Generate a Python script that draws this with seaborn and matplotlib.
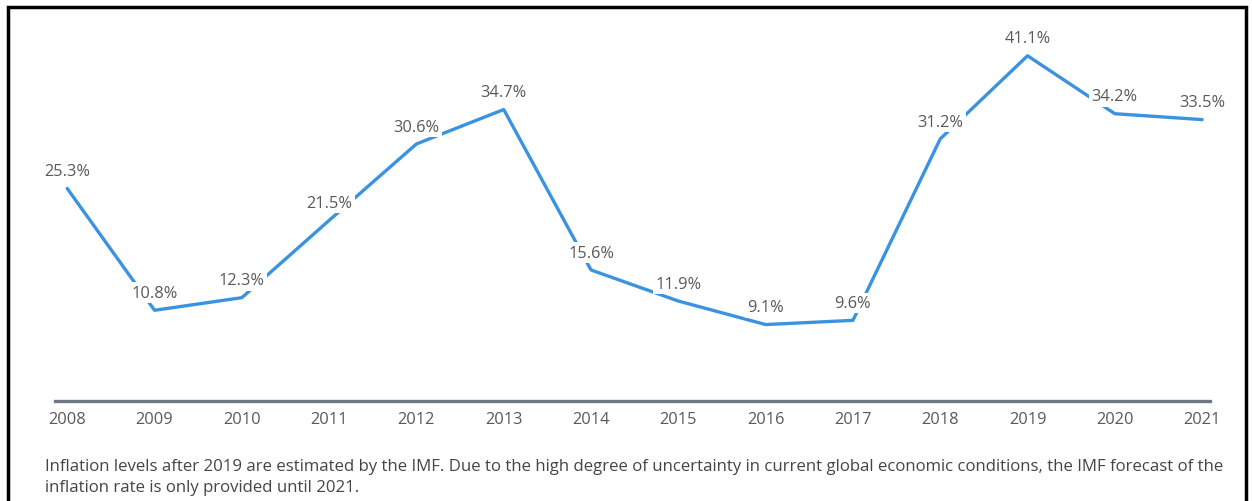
import matplotlib
matplotlib.use("Agg")
import matplotlib.pyplot as plt
import matplotlib.patches as patches
import pandas as pd
import seaborn as sns

# ==========================================
# DATA
# ==========================================

years = [2008, 2009, 2010, 2011, 2012, 2013, 2014,
         2015, 2016, 2017, 2018, 2019, 2020, 2021]

inflation = [25.3, 10.8, 12.3, 21.5, 30.6, 34.7, 15.6,
             11.9, 9.1, 9.6, 31.2, 41.1, 34.2, 33.5]

note_lines = [
    "Inflation levels after 2019 are estimated by the IMF. Due to the high degree "
    "of uncertainty in current global economic conditions, the IMF forecast of the",
    "inflation rate is only provided until 2021.",
]

df = pd.DataFrame({"year": years, "inflation": inflation})

# ==========================================
# STYLE
# ==========================================

sns.set_style("white")
plt.rcParams["font.family"] = ["Open Sans", "DejaVu Sans"]

line_color = "#3b93e0"
text_color = "#595959"

fig = plt.figure(figsize=(12.52, 5.02), dpi=100)
ax = fig.add_axes([55 / 1252, 100 / 502, 1155 / 1252, 378 / 502])

sns.lineplot(
    data=df,
    x="year",
    y="inflation",
    color=line_color,
    linewidth=2.4,
    ax=ax
)

for yr, val in zip(years, inflation):
    ax.annotate(
        f"{val}%",
        xy=(yr, val),
        xytext=(0, 12.5),
        textcoords="offset points",
        ha="center",
        va="center",
        fontsize=11.8,
        color=text_color,
        bbox=dict(boxstyle="square,pad=0.15", fc="white", ec="none")
    )

ax.set_xlim(2007.86, 2021.09)
ax.set_ylim(0, 45)
ax.set_xticks(years)
ax.set_xticklabels([str(y) for y in years], fontsize=11.8, color=text_color)
ax.set_yticks([])
ax.set_xlabel("")
ax.set_ylabel("")
ax.tick_params(axis="x", length=0, pad=7)

for side in ["top", "right", "left"]:
    ax.spines[side].set_visible(False)
ax.spines["bottom"].set_color("#6f7882")
ax.spines["bottom"].set_linewidth(2.4)

for i, line in enumerate(note_lines):
    fig.text(45 / 1252, 1 - (467 + 21.5 * i) / 502, line, fontsize=12.05,
             color="#454545", ha="left", va="center")

# black frame around the chart
frame = patches.Rectangle(
    (7.5 / 1252, -0.05), 1238 / 1252, (502 - 7.5) / 502 + 0.05,
    transform=fig.transFigure, fill=False, edgecolor="black", linewidth=2.5
)
fig.patches.append(frame)

fig.savefig("out.png", dpi=100)
plt.close(fig)
